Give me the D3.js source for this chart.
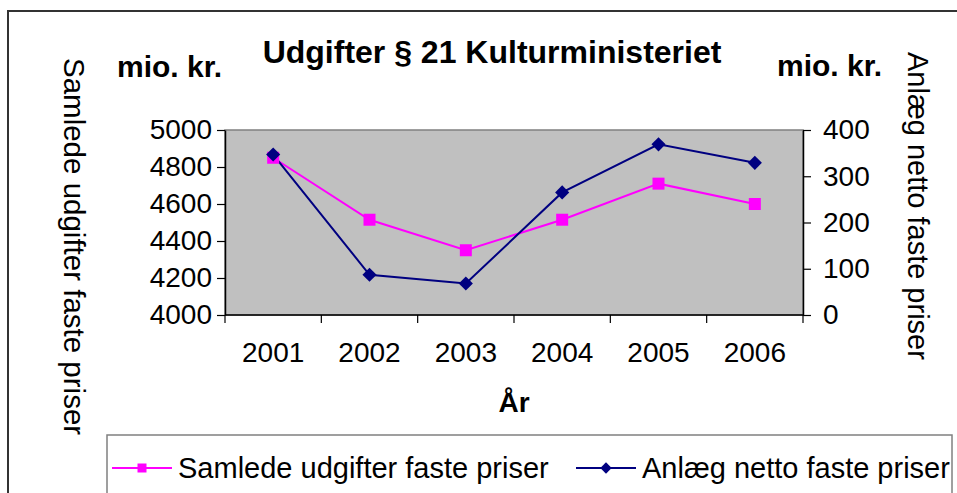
<!DOCTYPE html>
<html>
<head>
<meta charset="utf-8">
<script src="https://cdn.jsdelivr.net/npm/d3@7"></script>
<style>
  body { margin: 0; background: #fff; }
  svg { display: block; font-family: "Liberation Sans", Arial, sans-serif; }
</style>
</head>
<body>
<svg id="chart" width="957" height="493"></svg>
<script>
// data
const years = ["2001", "2002", "2003", "2004", "2005", "2006"];
const samlede = [4850, 4515, 4350, 4515, 4710, 4600];   // left axis
const anlaeg = [347, 87, 68, 265, 369, 329];            // right axis
const leftTicks = [4000, 4200, 4400, 4600, 4800, 5000];
const rightTicks = [0, 100, 200, 300, 400];

const svg = d3.select("#chart");
const W = +svg.attr("width"), H = +svg.attr("height");

const plot = { left: 225, right: 803, top: 130, bottom: 315 };

const x = d3.scaleBand().domain(years).range([plot.left, plot.right]);
const yL = d3.scaleLinear().domain([4000, 5000]).range([plot.bottom, plot.top]);
const yR = d3.scaleLinear().domain([0, 400]).range([plot.bottom, plot.top]);
const cx = d => x(d) + x.bandwidth() / 2;

svg.append("rect").attr("width", W).attr("height", H).attr("fill", "#fff");

// outer chart frame
svg.append("rect")
  .attr("x", 8).attr("y", 11).attr("width", 1000).attr("height", 1000)
  .attr("fill", "none").attr("stroke", "#333").attr("stroke-width", 2);

// plot area
svg.append("rect")
  .attr("x", plot.left).attr("y", plot.top)
  .attr("width", plot.right - plot.left).attr("height", plot.bottom - plot.top)
  .attr("fill", "#c0c0c0").attr("stroke", "#808080").attr("stroke-width", 1.5);

// titles
svg.append("text")
  .attr("x", 492).attr("y", 63).attr("text-anchor", "middle")
  .attr("font-size", 32).attr("font-weight", "bold")
  .text("Udgifter § 21 Kulturministeriet");

svg.append("text").attr("x", 117).attr("y", 77)
  .attr("font-size", 30).attr("font-weight", "bold").text("mio. kr.");
svg.append("text").attr("x", 777).attr("y", 76)
  .attr("font-size", 30).attr("font-weight", "bold").text("mio. kr.");

svg.append("text")
  .attr("transform", "translate(64,58) rotate(90)")
  .attr("font-size", 29.5).text("Samlede udgifter faste priser");
svg.append("text")
  .attr("transform", "translate(908,52) rotate(90)")
  .attr("font-size", 29).text("Anlæg netto faste priser");

// axes
const fmt = d3.format("d");
const axL = svg.append("g")
  .attr("transform", `translate(${plot.left},0)`)
  .call(d3.axisLeft(yL).tickValues(leftTicks).tickFormat(fmt).tickSize(8).tickSizeOuter(0).tickPadding(5));
const axR = svg.append("g")
  .attr("transform", `translate(${plot.right},0)`)
  .call(d3.axisRight(yR).tickValues(rightTicks).tickFormat(fmt).tickSize(8).tickSizeOuter(0).tickPadding(12));

[axL, axR].forEach(g => {
  g.selectAll("text").attr("font-size", 28).attr("font-family", "Liberation Sans, Arial, sans-serif").attr("fill", "#000");
  g.select(".domain").attr("stroke", "#000").attr("stroke-width", 1.5);
  g.selectAll(".tick line").attr("stroke", "#000").attr("stroke-width", 1.2);
});

// x axis: ticks on category boundaries, labels centred
const xg = svg.append("g");
xg.append("line")
  .attr("x1", plot.left).attr("x2", plot.right)
  .attr("y1", plot.bottom).attr("y2", plot.bottom)
  .attr("stroke", "#000").attr("stroke-width", 1.5);
const bounds = years.map(d => x(d)).concat([x.range()[1]]);
xg.selectAll("line.tk").data(bounds).join("line")
  .attr("class", "tk")
  .attr("x1", d => d).attr("x2", d => d)
  .attr("y1", plot.bottom).attr("y2", plot.bottom + 8)
  .attr("stroke", "#000").attr("stroke-width", 1.2);
xg.selectAll("text").data(years).join("text")
  .attr("x", d => cx(d)).attr("y", 362)
  .attr("text-anchor", "middle").attr("font-size", 28)
  .text(d => d);

svg.append("text")
  .attr("x", cx("2004") - x.bandwidth() / 2).attr("y", 412)
  .attr("text-anchor", "middle").attr("font-size", 28).attr("font-weight", "bold")
  .text("År");

// lines
const lineL = d3.line().x((d, i) => cx(years[i])).y(d => yL(d));
const lineR = d3.line().x((d, i) => cx(years[i])).y(d => yR(d));

svg.append("path").datum(samlede).attr("d", lineL)
  .attr("fill", "none").attr("stroke", "#ff00ff").attr("stroke-width", 2);
svg.append("path").datum(anlaeg).attr("d", lineR)
  .attr("fill", "none").attr("stroke", "#000080").attr("stroke-width", 2);

// square marker, and a square turned 45 degrees for the diamond
const sq = d3.symbol().type(d3.symbolSquare).size(144);
const dia = d3.symbol().type(d3.symbolSquare).size(100);

svg.selectAll("path.sq").data(samlede).join("path")
  .attr("class", "sq")
  .attr("transform", (d, i) => `translate(${cx(years[i])},${yL(d)})`)
  .attr("d", sq).attr("fill", "#ff00ff");
svg.selectAll("path.di").data(anlaeg).join("path")
  .attr("class", "di")
  .attr("transform", (d, i) => `translate(${cx(years[i])},${yR(d)}) rotate(45)`)
  .attr("d", dia).attr("fill", "#000080");

// legend
const lg = svg.append("g");
lg.append("rect")
  .attr("x", 107).attr("y", 435).attr("width", 845).attr("height", 100)
  .attr("fill", "#fff").attr("stroke", "#808080").attr("stroke-width", 1.5);

const items = [
  { name: "Samlede udgifter faste priser", color: "#ff00ff", size: 81, rot: 0, x: 112 },
  { name: "Anlæg netto faste priser", color: "#000080", size: 64, rot: 45, x: 576 }
];
items.forEach(it => {
  lg.append("line")
    .attr("x1", it.x).attr("x2", it.x + 60).attr("y1", 468).attr("y2", 468)
    .attr("stroke", it.color).attr("stroke-width", 2);
  lg.append("path")
    .attr("transform", `translate(${it.x + 30},468) rotate(${it.rot})`)
    .attr("d", d3.symbol().type(d3.symbolSquare).size(it.size)())
    .attr("fill", it.color);
  lg.append("text")
    .attr("x", it.x + 66).attr("y", 478).attr("font-size", 29)
    .text(it.name);
});
</script>
</body>
</html>
